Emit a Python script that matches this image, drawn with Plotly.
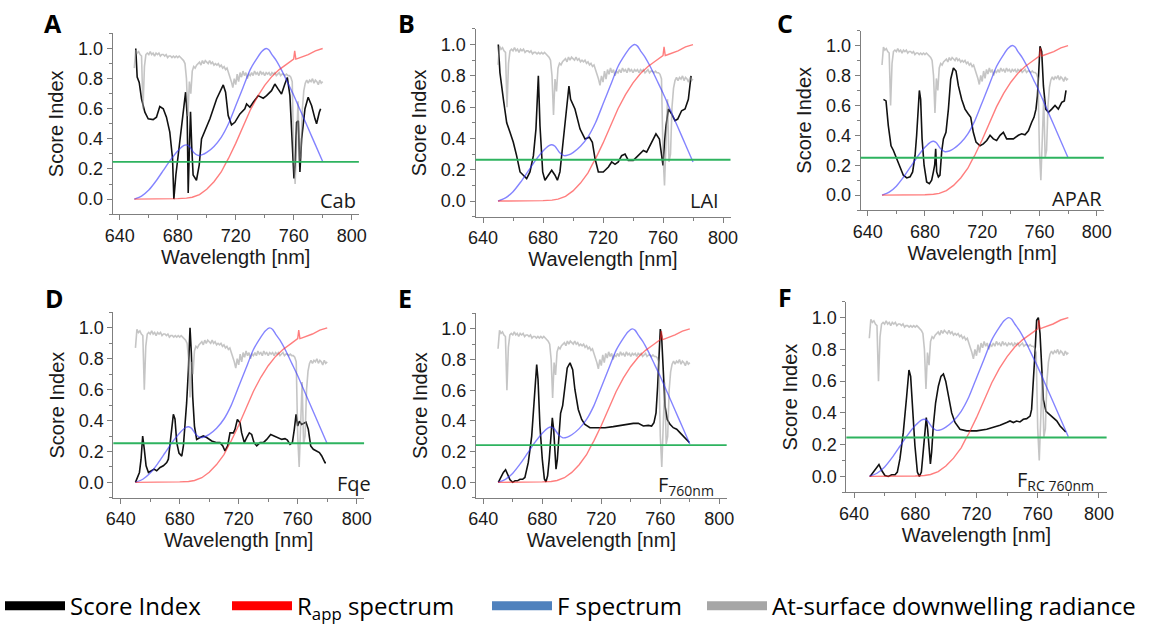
import plotly.graph_objects as go

# ---------------- DATA ----------------
# At-surface downwelling radiance (normalised), 1 nm steps 650..780
wl_rad = list(range(650, 781))
radiance = [
    0.87, 0.99, 0.97, 0.98, 0.96, 0.95, 0.60, 0.88, 0.96, 0.97,   # 650-659
    0.96, 0.98, 0.96, 0.97, 0.95, 0.97, 0.96, 0.97, 0.95, 0.96,   # 660-669
    0.96, 0.95, 0.96, 0.94, 0.95, 0.95, 0.94, 0.95, 0.94, 0.95,   # 670-679
    0.94, 0.95, 0.94, 0.93, 0.92, 0.90, 0.80, 0.55, 0.78, 0.70,   # 680-689
    0.85, 0.88, 0.87, 0.89, 0.90, 0.91, 0.89, 0.92, 0.90, 0.92,   # 690-699
    0.91, 0.90, 0.92, 0.90, 0.91, 0.89, 0.90, 0.89, 0.90, 0.88,   # 700-709
    0.89, 0.87, 0.88, 0.86, 0.87, 0.84, 0.82, 0.78, 0.74, 0.80,   # 710-719
    0.76, 0.83, 0.78, 0.84, 0.81, 0.85, 0.82, 0.84, 0.80, 0.83,   # 720-729
    0.82, 0.84, 0.82, 0.85, 0.83, 0.84, 0.82, 0.85, 0.83, 0.84,   # 730-739
    0.82, 0.84, 0.83, 0.84, 0.82, 0.84, 0.83, 0.84, 0.82, 0.83,   # 740-749
    0.84, 0.82, 0.83, 0.83, 0.82, 0.83, 0.82, 0.82, 0.81, 0.78,   # 750-759
    0.30, 0.10, 0.35, 0.65, 0.25, 0.30, 0.60, 0.72, 0.77, 0.79,   # 760-769
    0.77, 0.79, 0.78, 0.80, 0.77, 0.79, 0.78, 0.76, 0.79, 0.77,   # 770-779
    0.78,                                                         # 780
]

# Apparent reflectance spectrum (normalised)
wl_rapp = [650, 660, 670, 680, 686, 690, 695, 700, 705, 710, 713, 715, 720, 725,
           730, 735, 740, 745, 750, 755, 759, 760, 760.7, 761.5, 763, 766, 770, 775, 780]
rapp = [0.0, 0.0, 0.0, 0.003, 0.006, 0.012, 0.03, 0.065, 0.115, 0.18, 0.236, 0.27, 0.37, 0.48,
        0.59, 0.68, 0.755, 0.815, 0.86, 0.895, 0.92, 0.93, 0.985, 0.93, 0.935, 0.945, 0.96, 0.985, 1.0]

# Fluorescence spectrum (normalised)
wl_f = [650, 655, 660, 665, 670, 675, 680, 684, 686, 688, 691, 694, 697, 700, 705, 710,
        715, 720, 725, 730, 735, 738, 741, 743, 745, 748, 752, 756, 760, 765, 770, 775, 780]
fspec = [0.0, 0.02, 0.06, 0.12, 0.19, 0.26, 0.32, 0.355, 0.36, 0.35, 0.31, 0.29, 0.295, 0.31,
         0.35, 0.41, 0.50, 0.62, 0.74, 0.86, 0.94, 0.98, 1.0, 0.99, 0.96, 0.92, 0.85, 0.77,
         0.69, 0.58, 0.47, 0.36, 0.25]

# Score index curves
score_a_x = [651, 652, 653.4, 655, 657.3, 659.6, 663, 665.3, 667.6, 670, 672.2, 674.5, 676.4, 677.3,
             678.7, 681.4, 683.3, 685.4, 686.5, 687.2, 688, 688.8, 689.7, 690.6, 692.9, 694.8, 696.4,
             698.7, 702.2, 706.8, 710.2, 711.4, 713, 714.8, 717.1, 719.4, 722.9, 726.3, 727.5, 729.8,
             732.1, 735.5, 739, 741.3, 744.7, 747, 749.3, 751.6, 753.9, 755.6, 757.4, 759, 760.2, 761,
             762, 763.2, 764.3, 765.5, 767.8, 770, 772.4, 774.7, 775.8, 777.7, 778.6]
score_a_y = [1.0, 0.81, 0.775, 0.665, 0.577, 0.533, 0.528, 0.544, 0.615, 0.6, 0.544, 0.445, 0.27, 0.0,
             0.16, 0.40, 0.555, 0.71, 0.555, 0.04, 0.33, 0.58, 0.335, 0.16, 0.125, 0.225, 0.40,
             0.455, 0.533, 0.665, 0.73, 0.758, 0.71, 0.555, 0.493, 0.51, 0.566, 0.6, 0.632, 0.61,
             0.643, 0.687, 0.67, 0.687, 0.72, 0.764, 0.73, 0.698, 0.764, 0.808, 0.687, 0.40, 0.137, 0.225,
             0.51, 0.52, 0.18, 0.40, 0.60, 0.676, 0.62, 0.533, 0.50, 0.577, 0.60]

score_b_x = [650.2, 651.3, 653.6, 655.8, 658, 660.2, 662.4, 664.7, 666.9, 669.1, 671.3, 673.6, 675.3,
             676.9, 678, 679.8, 681.3, 683.6, 685.8, 688, 689.6, 691.3, 693.1, 694.7, 696.2, 697.3,
             698.4, 701.3, 704.7, 708, 710.9, 712.9, 714.7, 716.9, 720.2, 723.6, 725.8, 728, 730.2,
             732.4, 734.7, 736.9, 740.2, 743.6, 746.9, 749.1, 752.4, 755.3, 757.6, 760, 761, 762,
             763.6, 765.8, 768, 769.8, 772.4, 774.7, 776.9, 778.7]
score_b_y = [1.0, 0.82, 0.65, 0.50, 0.44, 0.376, 0.29, 0.186, 0.165, 0.144, 0.186, 0.29, 0.46,
             0.80, 0.48, 0.186, 0.133, 0.165, 0.197, 0.165, 0.133, 0.186, 0.355, 0.503, 0.63, 0.735,
             0.65, 0.588, 0.46, 0.397, 0.408, 0.376, 0.27, 0.186, 0.186, 0.218, 0.25, 0.235, 0.25,
             0.29, 0.30, 0.26, 0.26, 0.29, 0.323, 0.313, 0.376, 0.43, 0.397, 0.228, 0.376, 0.48,
             0.588, 0.556, 0.514, 0.524, 0.577, 0.588, 0.65, 0.80]

score_c_x = [651, 652.8, 654.4, 656.3, 657.9, 660.3, 662.6, 664.9, 667.3, 669.6, 671.4, 673.1, 674.2,
             675.4, 676.1, 677, 678, 679.4, 681.2, 683.1, 684.7, 685.9, 686.8, 687.5, 688.2, 689.4,
             690.5, 691.7, 692.9, 694.7, 696.4, 698, 699.9, 701.7, 703.4, 705.7, 708, 710.3, 712,
             713.8, 715.7, 718.5, 720.8, 723.2, 725.5, 727.8, 730.1, 732.5, 734.8, 737.1, 741.8,
             745.3, 747.6, 749.9, 752.3, 754.6, 756.2, 757.6, 758.6, 759.5, 760.4, 761.6, 762.8,
             764.4, 766.3, 768.6, 770.9, 773.2, 775.6, 777.4, 778.6]
score_c_y = [0.64, 0.63, 0.465, 0.33, 0.30, 0.243, 0.177, 0.133, 0.115, 0.122, 0.155, 0.265, 0.40,
             0.575, 0.70, 0.64, 0.376, 0.2, 0.088, 0.077, 0.10, 0.155, 0.2, 0.31, 0.155, 0.122,
             0.133, 0.29, 0.376, 0.42, 0.575, 0.775, 0.85, 0.83, 0.73, 0.64, 0.575, 0.542, 0.52,
             0.42, 0.354, 0.33, 0.343, 0.365, 0.40, 0.376, 0.365, 0.40, 0.42, 0.376, 0.376,
             0.40, 0.41, 0.403, 0.43, 0.487, 0.52, 0.575, 0.664, 0.82, 0.995, 0.96, 0.73,
             0.575, 0.553, 0.575, 0.6, 0.575, 0.62, 0.63, 0.70]

score_d_x = [650, 651.3, 652.7, 653.8, 654.9, 656, 657.2, 658.8, 661, 662.6, 664.4, 666.7, 668.9,
             671.2, 672.3, 673.4, 674.6, 675.7, 676.8, 678, 679.5, 681.4, 682.5, 683.6, 684.7, 685.9,
             687, 687.9, 688.8, 690, 691.5, 693.8, 696, 698.3, 701.7, 705.1, 707.3, 709.2, 710.7,
             712.5, 714.1, 716.4, 717.5, 719.1, 720.9, 722, 723.8, 725.4, 727.2, 728.8, 730.4, 732.2,
             734.5, 736.7, 739, 741.7, 744, 746.2, 749.2, 751.4, 753, 754.8, 756.4, 757.7, 758.9,
             760, 761.1, 762.7, 764.3, 765.6, 767.2, 768.8, 770.6, 772.9, 774.7, 776.3, 778.5, 779.2]
score_d_y = [0.0, 0.03, 0.064, 0.15, 0.30, 0.214, 0.107, 0.064, 0.075, 0.086, 0.075, 0.096, 0.107,
             0.128, 0.15, 0.236, 0.364, 0.44, 0.41, 0.257, 0.19, 0.17, 0.236, 0.364, 0.514, 0.73,
             1.0, 0.835, 0.557, 0.364, 0.278, 0.29, 0.30, 0.29, 0.268, 0.257, 0.257, 0.236, 0.203,
             0.236, 0.32, 0.32, 0.343, 0.407, 0.385, 0.32, 0.257, 0.29, 0.32, 0.31, 0.257, 0.236,
             0.257, 0.257, 0.278, 0.31, 0.30, 0.29, 0.278, 0.283, 0.274, 0.246, 0.257, 0.343, 0.44,
             0.364, 0.396, 0.375, 0.385, 0.39, 0.343, 0.236, 0.214, 0.203, 0.193, 0.171, 0.128, 0.128]

score_e_x = [650.2, 651.8, 653.6, 655.1, 656.3, 658.1, 659.9, 661.5, 663.1, 664.9, 666.7, 668.2, 670.5,
             672.8, 674.4, 675.5, 676.2, 677.1, 678.4, 680, 681.4, 682.5, 683.6, 684.7, 685.9, 686.8,
             687.7, 688.6, 689.3, 690.2, 691.3, 692.4, 693.8, 695.4, 696.9, 698.8, 700.6, 702.1,
             704.4, 706.7, 708.9, 712.3, 716.8, 722.5, 728.1, 732.7, 737.2, 741.7, 745.1, 748.5,
             751.9, 754.1, 755.7, 757.1, 758.2, 759.1, 760, 760.9, 762, 763.2, 764.7, 766.6, 768.8,
             771.1, 773.3, 775.6, 777.9, 779.7]
score_e_y = [0.0, 0.032, 0.065, 0.082, 0.054, 0.017, 0.0, 0.01, 0.01, 0.02, 0.02, 0.032, 0.13,
             0.30, 0.52, 0.73, 0.767, 0.67, 0.367, 0.15, 0.022, 0.004, 0.043, 0.15, 0.324, 0.42,
             0.345, 0.15, 0.086, 0.15, 0.345, 0.45, 0.5, 0.627, 0.745, 0.778, 0.734, 0.605,
             0.475, 0.41, 0.378, 0.356, 0.356, 0.356, 0.363, 0.371, 0.378, 0.384, 0.384, 0.367,
             0.371, 0.367, 0.389, 0.453, 0.626, 0.842, 0.998, 0.95, 0.713, 0.497, 0.41, 0.378, 0.356,
             0.346, 0.324, 0.302, 0.276, 0.26]

score_f_x = [650.5, 652.6, 654.8, 656.3, 658.1, 660.2, 662.4, 664.6, 666.8, 668.3, 670, 672.2, 674.4,
             675.9, 677, 678.3, 679.8, 681.4, 682.7, 684, 685.3, 686.4, 687.2, 688.1, 689.2, 689.9,
             690.7, 691.8, 693.3, 695.1, 696.8, 698.4, 699.9, 701.6, 703.8, 706, 709.2, 713.6, 720.1,
             726.7, 731, 735.4, 739.7, 741.9, 744.1, 746.2, 748.4, 750.6, 752.8, 755, 756, 757.1,
             758.2, 759.3, 760.4, 761.5, 762.6, 763.7, 765.4, 767.6, 770.2, 772.4, 774.6, 776.7, 778.3]
score_f_y = [0.0, 0.027, 0.058, 0.075, 0.037, 0.006, 0.0, 0.01, 0.01, 0.027, 0.11, 0.277, 0.505,
             0.67, 0.63, 0.40, 0.193, 0.027, 0.0, 0.027, 0.152, 0.277, 0.37, 0.297, 0.152, 0.079,
             0.152, 0.318, 0.464, 0.568, 0.63, 0.645, 0.6, 0.505, 0.40, 0.34, 0.297, 0.287, 0.287,
             0.297, 0.308, 0.322, 0.339, 0.349, 0.339, 0.349, 0.343, 0.36, 0.364, 0.38, 0.422, 0.568,
             0.775, 0.983, 1.0, 0.9, 0.67, 0.484, 0.41, 0.39, 0.37, 0.35, 0.318, 0.297, 0.28]

score_x = [score_a_x, score_b_x, score_c_x, score_d_x, score_e_x, score_f_x]
score_y = [score_a_y, score_b_y, score_c_y, score_d_y, score_e_y, score_f_y]
thresholds = [0.247, 0.264, 0.25, 0.253, 0.242, 0.245]
panel_letters = ["A", "B", "C", "D", "E", "F"]
panel_labels = ["Cab", "LAI", "APAR", "Fqe", "F<sub>760nm</sub>", "F<sub>RC 760nm</sub>"]
legend_names = ["Score Index", "R<sub>app</sub> spectrum", "F spectrum", "At-surface downwelling radiance"]
x_ticks = [640, 680, 720, 760, 800]
y_ticks = [0.0, 0.2, 0.4, 0.6, 0.8, 1.0]

# ---------------- LAYOUT GEOMETRY ----------------
W, H = 1158, 629
XR = [635, 805]
YR = [-0.1, 1.1]
# pixel position of x=640, px per nm, pixel y of 0 and of 1
geom = [
    (119.8, 1.449, 201.0, 49.0),
    (483.0, 1.500, 203.0, 45.0),
    (867.7, 1.431, 197.0, 46.0),
    (120.7, 1.475, 487.0, 331.0),
    (483.3, 1.475, 487.0, 332.0),
    (854.0, 1.531, 481.0, 320.7),
]
letter_pos = [(53, 23), (406, 23), (785, 23), (54, 301), (405, 301), (785, 300)]
label_pos = [(358, 202), (721, 202), (1104, 200), (373, 488), (716, 490), (1096, 485)]
legend_entry_widths = [152, 185, 140, 380]

C_BLACK = "#111111"
C_GRAY = "rgba(150,150,150,0.55)"
C_RED = "rgba(255,40,40,0.6)"
C_BLUE = "rgba(50,50,255,0.6)"
C_GREEN = "#2eb35f"
AX = "#7f7f7f"
TXT = "#1a1a1a"
FONT_AX = "Liberation Sans, Arial, sans-serif"
FONT_LAB = "Open Sans, Lato, sans-serif"

fig = go.Figure()
layout = dict(
    width=W, height=H, margin=dict(l=0, r=0, t=0, b=0),
    paper_bgcolor="white", plot_bgcolor="white", template="none",
    showlegend=True,
)
shapes = []
annotations = []

for i, (p640, spx, py0, py1) in enumerate(geom):
    k = "" if i == 0 else str(i + 1)
    xl = p640 + (XR[0] - 640) * spx
    xr = p640 + (XR[1] - 640) * spx
    s = py0 - py1
    yb = py0 - YR[0] * s
    yt = py0 - YR[1] * s
    layout["xaxis" + k] = dict(
        domain=[xl / W, xr / W], range=XR, anchor="y" + k,
        showline=True, linecolor=AX, linewidth=1, mirror=False,
        ticks="outside", ticklen=5, tickwidth=1, tickcolor=AX,
        tickvals=x_ticks, showgrid=False, zeroline=False,
        tickfont=dict(family=FONT_AX, size=18, color=TXT),
        minor=dict(ticks="outside", ticklen=3, tickcolor=AX, dtick=20, tick0=640, showgrid=False),
        title=dict(text="Wavelength [nm]", font=dict(family=FONT_AX, size=20, color=TXT), standoff=4),
    )
    layout["yaxis" + k] = dict(
        domain=[1 - yb / H, 1 - yt / H], range=YR, anchor="x" + k,
        showline=True, linecolor=AX, linewidth=1,
        ticks="outside", ticklen=5, tickwidth=1, tickcolor=AX,
        tickvals=y_ticks, tickformat=".1f", showgrid=False, zeroline=False,
        tickfont=dict(family=FONT_AX, size=18, color=TXT),
        minor=dict(ticks="outside", ticklen=3, tickcolor=AX, dtick=0.1, tick0=0, showgrid=False),
        title=dict(text="Score Index", font=dict(family=FONT_AX, size=20, color=TXT), standoff=8),
    )
    xa, ya = "x" + k, "y" + k
    fig.add_trace(go.Scatter(x=score_x[i], y=score_y[i], mode="lines", xaxis=xa, yaxis=ya,
                             line=dict(color=C_BLACK, width=1.6), showlegend=False, hoverinfo="skip"))
    fig.add_trace(go.Scatter(x=wl_rad, y=radiance, mode="lines", xaxis=xa, yaxis=ya,
                             line=dict(color=C_GRAY, width=1.6), showlegend=False, hoverinfo="skip"))
    fig.add_trace(go.Scatter(x=wl_f, y=fspec, mode="lines", xaxis=xa, yaxis=ya,
                             line=dict(color=C_BLUE, width=1.4, shape="spline", smoothing=0.6),
                             showlegend=False, hoverinfo="skip"))
    fig.add_trace(go.Scatter(x=wl_rapp, y=rapp, mode="lines", xaxis=xa, yaxis=ya,
                             line=dict(color=C_RED, width=1.4), showlegend=False, hoverinfo="skip"))
    shapes.append(dict(type="line", xref=xa + " domain", x0=0, x1=1, yref=ya,
                       y0=thresholds[i], y1=thresholds[i], line=dict(color=C_GREEN, width=1.8)))
    lx, ly = letter_pos[i]
    annotations.append(dict(text="<b>%s</b>" % panel_letters[i], xref="paper", yref="paper",
                            x=lx / W, y=1 - ly / H, xanchor="center", yanchor="middle", showarrow=False,
                            font=dict(family=FONT_LAB, size=25, color="black")))
    tx, ty = label_pos[i]
    annotations.append(dict(text=panel_labels[i], xref="paper", yref="paper",
                            x=tx / W, y=1 - ty / H, xanchor="right", yanchor="middle", showarrow=False,
                            font=dict(family=FONT_LAB, size=20, color=TXT)))

# legend-only entries (thick swatches)
leg_colors = ["#000000", "#ff0000", "#4f81bd", "#a6a6a6"]
for name, col, lw in zip(legend_names, leg_colors, legend_entry_widths):
    fig.add_trace(go.Scatter(x=[None], y=[None], mode="lines", name=name, xaxis="x", yaxis="y",
                             line=dict(color=col, width=9), legendwidth=lw))

layout["legend"] = dict(orientation="h", x=0, xanchor="left", y=(H - 612) / H, yanchor="middle",
                        font=dict(family=FONT_LAB, size=24, color="black"),
                        itemwidth=60, bgcolor="rgba(0,0,0,0)", traceorder="normal")
layout["shapes"] = shapes
layout["annotations"] = annotations
fig.update_layout(**layout)
fig.write_html("out.html")
